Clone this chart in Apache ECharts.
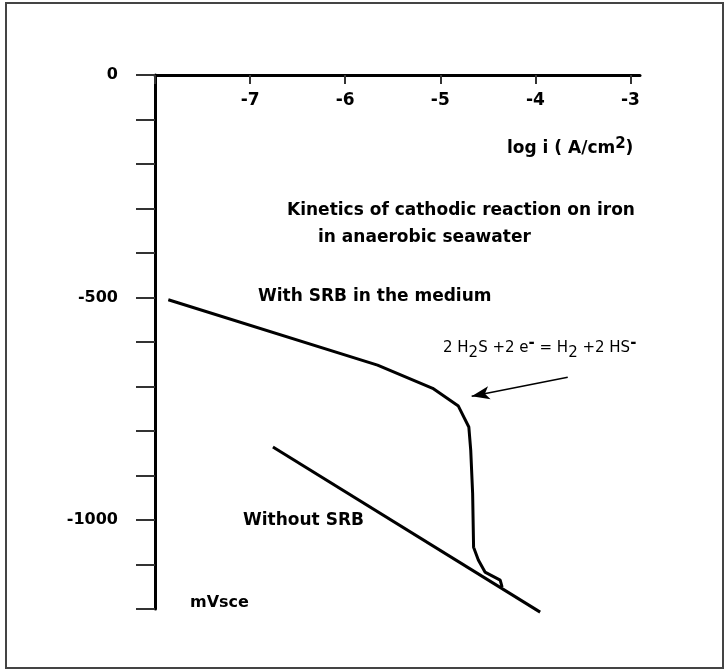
<!DOCTYPE html>
<html>
<head>
<meta charset="utf-8">
<script src="https://cdn.jsdelivr.net/npm/echarts@6/dist/echarts.min.js"></script>
<style>
  html, body { margin: 0; padding: 0; background: #fff; }
  #chart { width: 725px; height: 672px; }
</style>
</head>
<body>
<div id="chart"></div>
<script>
// log i (A/cm2) vs potential (mVsce)
var withSrbX = [-7.86, -5.66, -5.08, -4.81, -4.70, -4.68, -4.66, -4.65, -4.60, -4.53, -4.37, -4.35];
var withSrbY = [-505, -652, -704, -744, -791, -843, -940, -1061, -1090, -1117, -1135, -1151];
var withoutSrbX = [-6.76, -3.95];
var withoutSrbY = [-836, -1207];
var arrowFrom = [-3.66, -679];
var arrowTo = [-4.67, -722];
var xTicks = [-7, -6, -5, -4, -3];
var yLabels = [0, -500, -1000];

function pairs(xs, ys) {
    var out = [];
    for (var i = 0; i < xs.length; i++) out.push([xs[i], ys[i]]);
    return out;
}

var font = 'DejaVu Sans, sans-serif';
var chart = echarts.init(document.getElementById('chart'));

var option = {
    animation: false,
    backgroundColor: '#fff',
    grid: { left: 155, top: 75, right: 85, bottom: 63 },
    xAxis: {
        type: 'value',
        position: 'top',
        min: -8,
        max: -2.9,
        interval: 1,
        axisLine: { lineStyle: { color: '#000', width: 3 } },
        axisTick: { inside: true, length: 9, lineStyle: { color: '#333', width: 2 } },
        axisLabel: {
            inside: true,
            margin: 17,
            color: '#000',
            fontFamily: font,
            fontWeight: 'bold',
            fontSize: 17,
            showMaxLabel: false,
            formatter: function (v) { return xTicks.indexOf(v) >= 0 ? String(v) : ''; }
        },
        splitLine: { show: false }
    },
    yAxis: {
        type: 'value',
        min: -1200,
        max: 0,
        interval: 100,
        axisLine: { lineStyle: { color: '#000', width: 3 } },
        axisTick: { length: 19, lineStyle: { color: '#333', width: 2 } },
        axisLabel: {
            margin: 37,
            color: '#000',
            fontFamily: font,
            fontWeight: 'bold',
            fontSize: 16,
            formatter: function (v) { return yLabels.indexOf(v) >= 0 ? String(v) : ''; }
        },
        splitLine: { show: false }
    },
    series: [
        {
            name: 'With SRB in the medium',
            type: 'line',
            data: pairs(withSrbX, withSrbY),
            symbol: 'none',
            clip: false,
            lineStyle: { color: '#000', width: 3 },
            markLine: {
                silent: true,
                symbol: ['none', 'arrow'],
                symbolSize: [10, 18],
                label: { show: false },
                lineStyle: { color: '#000', width: 1.5, type: 'solid' },
                data: [[{ coord: arrowFrom }, { coord: arrowTo }]]
            }
        },
        {
            name: 'Without SRB',
            type: 'line',
            data: pairs(withoutSrbX, withoutSrbY),
            symbol: 'none',
            clip: false,
            lineStyle: { color: '#000', width: 3 }
        }
    ],
    graphic: [
        {
            type: 'rect',
            shape: { x: 6, y: 3, width: 717, height: 665 },
            style: { fill: 'none', stroke: '#444', lineWidth: 2 }
        },
        {
            type: 'text', x: 507, y: 149,
            style: {
                text: 'log i ( A/cm{sup|2})',
                rich: { sup: { fontSize: 15, fontWeight: 'bold', fontFamily: font, padding: [0, 0, 9, 0] } },
                font: 'bold 17px ' + font, fill: '#000', verticalAlign: 'middle'
            }
        },
        {
            type: 'text', x: 287, y: 211,
            style: { text: 'Kinetics of cathodic reaction on iron', font: 'bold 17px ' + font, fill: '#000', verticalAlign: 'middle' }
        },
        {
            type: 'text', x: 318, y: 238,
            style: { text: 'in anaerobic seawater', font: 'bold 17px ' + font, fill: '#000', verticalAlign: 'middle' }
        },
        {
            type: 'text', x: 258, y: 297,
            style: { text: 'With SRB in the medium', font: 'bold 17px ' + font, fill: '#000', verticalAlign: 'middle' }
        },
        {
            type: 'text', x: 443, y: 348,
            style: {
                text: '2 H{sub|2}S +2 e{sup|-} = H{sub|2} +2 HS{sup|-}',
                rich: {
                    sub: { fontSize: 15, fontFamily: font, padding: [11, 0, 0, 0] },
                    sup: { fontSize: 15, fontFamily: font, fontWeight: 'bold', padding: [0, 0, 10, 0] }
                },
                font: '15px ' + font, fill: '#000', verticalAlign: 'middle'
            }
        },
        {
            type: 'text', x: 243, y: 521,
            style: { text: 'Without SRB', font: 'bold 17px ' + font, fill: '#000', verticalAlign: 'middle' }
        },
        {
            type: 'text', x: 190, y: 603,
            style: { text: 'mVsce', font: 'bold 16px ' + font, fill: '#000', verticalAlign: 'middle' }
        }
    ]
};

chart.setOption(option);
</script>
</body>
</html>
